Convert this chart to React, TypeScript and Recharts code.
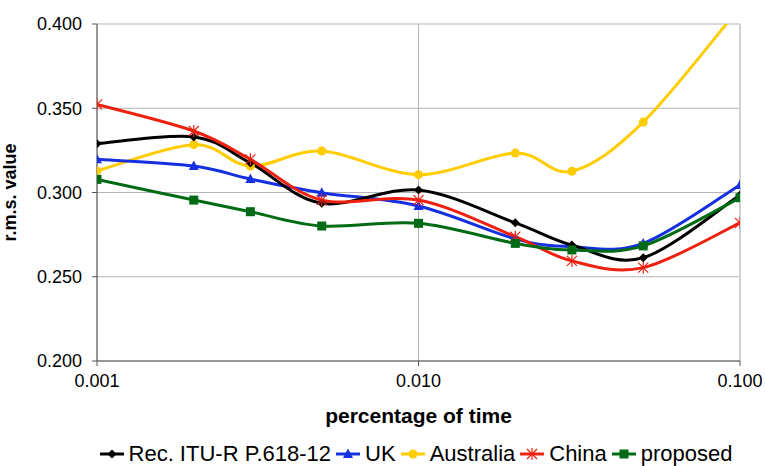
import React from "react";
import {
  LineChart,
  Line,
  XAxis,
  YAxis,
  CartesianGrid,
  ReferenceLine,
} from "recharts";

const percentages = [0.001, 0.002, 0.003, 0.005, 0.01, 0.02, 0.03, 0.05, 0.1];
const itu = [0.329, 0.333, 0.3175, 0.2936, 0.3015, 0.282, 0.2688, 0.2613, 0.2985];
const uk = [0.3197, 0.3157, 0.308, 0.2999, 0.292, 0.2725, 0.2678, 0.2698, 0.3045];
const australia = [0.3128, 0.3284, 0.3157, 0.3246, 0.3106, 0.3234, 0.3126, 0.3418, 0.41];
const china = [0.3523, 0.3365, 0.3197, 0.2955, 0.2955, 0.2738, 0.2594, 0.2554, 0.282];
const proposed = [0.3078, 0.2955, 0.2886, 0.2801, 0.2817, 0.2698, 0.2659, 0.2683, 0.2969];

const xTicks = [0.001, 0.01, 0.1];
const yTicks = [0.2, 0.25, 0.3, 0.35, 0.4];

const data = percentages.map((p, i) => ({
  p,
  itu: itu[i],
  uk: uk[i],
  australia: australia[i],
  china: china[i],
  proposed: proposed[i],
}));

const FONT = "'Liberation Sans', Arial, sans-serif";

// excel-like smoothed line (catmull-rom through the points)
const smooth = (context: any) => {
  let pts: number[][] = [];
  return {
    areaStart() {},
    areaEnd() {},
    lineStart() {
      pts = [];
    },
    point(x: number, y: number) {
      pts.push([+x, +y]);
    },
    lineEnd() {
      const n = pts.length;
      if (!n) return;
      context.moveTo(pts[0][0], pts[0][1]);
      for (let i = 0; i < n - 1; i++) {
        const a = pts[Math.max(i - 1, 0)];
        const b = pts[i];
        const c = pts[i + 1];
        const d = pts[Math.min(i + 2, n - 1)];
        context.bezierCurveTo(
          b[0] + (c[0] - a[0]) / 6,
          b[1] + (c[1] - a[1]) / 6,
          c[0] - (d[0] - b[0]) / 6,
          c[1] - (d[1] - b[1]) / 6,
          c[0],
          c[1]
        );
      }
    },
  };
};

type Marker = "diamond" | "triangle" | "circle" | "star" | "square";

const markerShape = (kind: Marker, x: number, y: number, color: string) => {
  switch (kind) {
    case "diamond":
      return <polygon points={`${x},${y - 4.5} ${x + 4.5},${y} ${x},${y + 4.5} ${x - 4.5},${y}`} fill={color} />;
    case "triangle":
      return <polygon points={`${x},${y - 5.5} ${x + 5},${y + 4} ${x - 5},${y + 4}`} fill={color} />;
    case "circle":
      return <circle cx={x} cy={y} r={4.5} fill={color} />;
    case "square":
      return <rect x={x - 4.5} y={y - 4.5} width={9} height={9} fill={color} />;
    case "star":
      return (
        <g stroke={color} strokeWidth={1.2}>
          <line x1={x - 5} y1={y - 5} x2={x + 5} y2={y + 5} />
          <line x1={x - 5} y1={y + 5} x2={x + 5} y2={y - 5} />
          <line x1={x} y1={y - 6} x2={x} y2={y + 6} />
        </g>
      );
  }
};

const series: { key: string; name: string; color: string; marker: Marker }[] = [
  { key: "itu", name: "Rec. ITU-R P.618-12", color: "#000000", marker: "diamond" },
  { key: "uk", name: "UK", color: "#1530e0", marker: "triangle" },
  { key: "australia", name: "Australia", color: "#ffcc00", marker: "circle" },
  { key: "china", name: "China", color: "#ee2010", marker: "star" },
  { key: "proposed", name: "proposed", color: "#006b14", marker: "square" },
];

const drawOrder = ["australia", "uk", "itu", "china", "proposed"];

export default function App() {
  return (
    <div style={{ position: "absolute", left: 0, top: 0, width: 765, height: 466, background: "#fff" }}>
      <LineChart width={765} height={466} data={data} margin={{ top: 24, right: 25, bottom: 0, left: 0 }}>
        <CartesianGrid stroke="#b4b4b4" strokeWidth={1} />
        <ReferenceLine x={0.1} stroke="#d0d0d0" strokeWidth={2} />
        <XAxis
          dataKey="p"
          type="number"
          scale="log"
          domain={[0.001, 0.1]}
          ticks={xTicks}
          tickFormatter={(v: number) => v.toFixed(3)}
          height={105}
          tickSize={5}
          tickMargin={8}
          stroke="#555"
          tick={{ fill: "#000", fontSize: 18, fontFamily: FONT }}
          label={{
            value: "percentage of time",
            position: "insideTop",
            offset: 47,
            style: { fontSize: 21, fontWeight: "bold", fontFamily: FONT, fill: "#000" },
          }}
          allowDataOverflow
        />
        <YAxis
          domain={[0.2, 0.4]}
          ticks={yTicks}
          tickFormatter={(v: number) => v.toFixed(3)}
          width={97}
          tickSize={5}
          tickMargin={10}
          stroke="#555"
          tick={{ fill: "#000", fontSize: 18, fontFamily: FONT }}
          allowDataOverflow
          label={{
            value: "r.m.s. value",
            angle: -90,
            position: "insideLeft",
            offset: 10,
            style: { fontSize: 18, fontWeight: "bold", fontFamily: FONT, fill: "#000", textAnchor: "middle" },
          }}
        />
        {drawOrder.map((k) => {
          const s = series.find((x) => x.key === k)!;
          return (
            <Line
              key={s.key}
              dataKey={s.key}
              name={s.name}
              type={smooth as any}
              stroke={s.color}
              strokeWidth={3}
              isAnimationActive={false}
              dot={(props: any) => (
                <g key={`${s.key}-${props.index}`}>{markerShape(s.marker, props.cx, props.cy, s.color)}</g>
              )}
              activeDot={false}
            />
          );
        })}
      </LineChart>
      <div
        style={{
          position: "absolute",
          left: 97,
          width: 643,
          top: 443,
          display: "flex",
          justifyContent: "center",
          alignItems: "center",
          fontFamily: FONT,
          fontSize: 22,
          lineHeight: "22px",
          color: "#000",
          whiteSpace: "nowrap",
        }}
      >
        {series.map((s) => (
          <div key={s.key} style={{ display: "flex", alignItems: "center", marginRight: 5 }}>
            <svg width={24} height={14} style={{ marginRight: 5 }}>
              <line x1={0} y1={7} x2={24} y2={7} stroke={s.color} strokeWidth={3} />
              {markerShape(s.marker, 12, 7, s.color)}
            </svg>
            <span>{s.name}</span>
          </div>
        ))}
      </div>
    </div>
  );
}
